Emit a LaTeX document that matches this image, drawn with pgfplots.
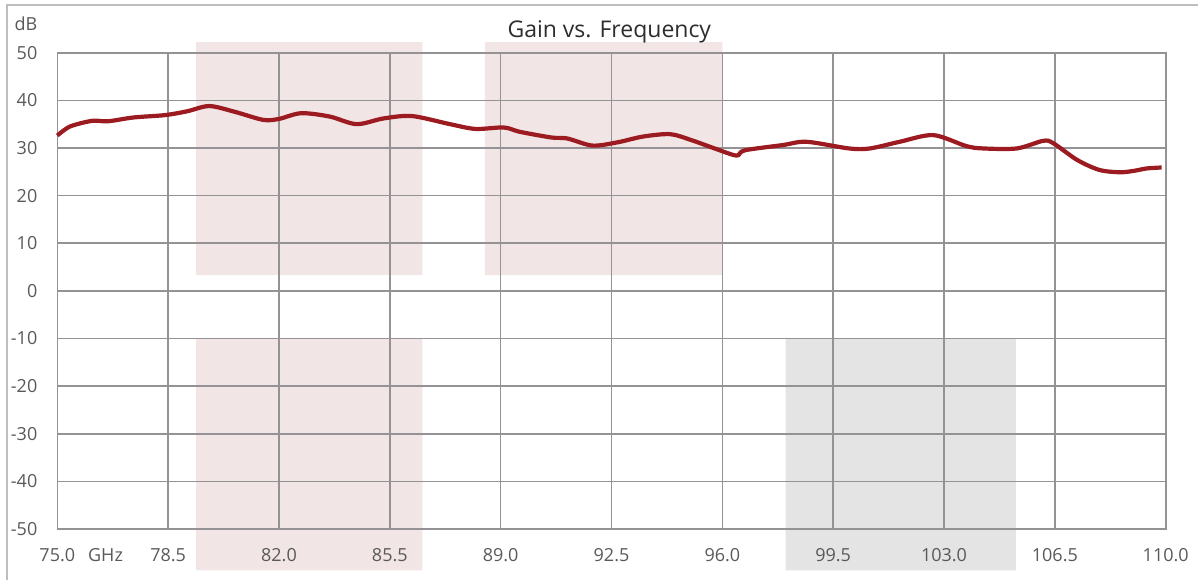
\documentclass[border=0pt]{standalone}
\usepackage{fontspec}
\setmainfont{Open Sans}
\usepackage{pgfplots}
\pgfplotsset{compat=1.18}
\definecolor{curvered}{RGB}{155,27,32}
\definecolor{shadepink}{RGB}{242,229,229}
\definecolor{shadegray}{RGB}{228,228,228}
\definecolor{gridgray}{RGB}{148,146,148}
\definecolor{framegray}{RGB}{190,190,190}
\definecolor{txtgray}{RGB}{89,89,89}
\definecolor{titlegray}{RGB}{45,45,45}
\begin{document}
\begin{tikzpicture}
\begin{axis}[
    at={(0,0)}, anchor=south west,
    scale only axis, width=554.2pt, height=238.15pt,
    xmin=75, xmax=110, ymin=-50, ymax=50,
    xtick={75,78.5,...,110.1}, ytick={-50,-40,...,50},
    grid=major,
    major grid style={gridgray, line width=0.8pt},
    axis line style={gridgray, line width=0.8pt},
    major tick length=0pt,
    tick label style={font=\fontsize{9}{10}\selectfont, text=txtgray},
    xticklabel style={anchor=center, yshift=-13.25pt,
      /pgf/number format/.cd, fixed, fixed zerofill, precision=1, assume math mode=true},
    yticklabel style={anchor=east, inner sep=0pt, xshift=-9.8pt,
      /pgf/number format/assume math mode=true},
    set layers, clip=false,
]
% shaded bands
\addplot[fill=shadepink, draw=none, on layer=axis background] coordinates
  {(79.38,3.3) (86.53,3.3) (86.53,52.2) (79.38,52.2) (79.38,3.3)};
\addplot[fill=shadepink, draw=none, on layer=axis background] coordinates
  {(88.5,3.3) (96.0,3.3) (96.0,52.2) (88.5,52.2) (88.5,3.3)};
\addplot[fill=shadepink, draw=none, on layer=axis background] coordinates
  {(79.38,-58.7) (86.53,-58.7) (86.53,-10) (79.38,-10) (79.38,-58.7)};
\addplot[fill=shadegray, draw=none, on layer=axis background] coordinates
  {(98.0,-58.7) (105.27,-58.7) (105.27,-10) (98.0,-10) (98.0,-58.7)};
% gain curve
\addplot[curvered, line width=2.1pt, smooth, tension=0.5] coordinates {
  (75.0,32.6) (75.4,34.5) (76.1,35.7) (76.6,35.6) (77.4,36.4) (78.4,36.9)
  (79.1,37.7) (79.8,38.8) (80.6,37.6) (81.5,35.9) (82.0,36.1) (82.7,37.3)
  (83.6,36.6) (84.45,35.0) (85.3,36.2) (86.2,36.7) (87.4,35.0) (88.2,34.0)
  (89.1,34.3) (89.6,33.4) (90.6,32.2) (91.1,32.0) (91.9,30.5) (92.7,31.2)
  (93.5,32.4) (94.35,32.9) (95.0,31.7) (95.8,29.8) (96.45,28.4) (96.7,29.5)
  (97.9,30.6) (98.66,31.3) (100.0,29.9) (100.66,29.9) (101.6,31.3) (102.66,32.7)
  (103.7,30.4) (104.24,29.9) (105.3,29.9) (106.13,31.5) (106.45,31.0) (107.2,27.5)
  (107.9,25.4) (108.55,24.9) (109.0,25.2) (109.4,25.7) (109.87,25.9)
};
\node[text=titlegray, anchor=base, font=\fontsize{11.5}{13}\selectfont] at (rel axis cs:0.498,1.0315) {Gain vs. Frequency};
\node[text=txtgray, font=\fontsize{9}{10}\selectfont] at (rel axis cs:-0.0282,1.060) {dB};
\node[text=txtgray, font=\fontsize{9}{10}\selectfont] at (rel axis cs:0.0435,-0.0556) {GHz};
\end{axis}
\draw[framegray, line width=0.75pt] (-25.15pt,-40pt) -- (-25.15pt,262pt) -- (580pt,262pt);
\pgfresetboundingbox
\path[use as bounding box] (-28.65pt,-25pt) rectangle (570.35pt,264.5pt);
\end{tikzpicture}
\end{document}
